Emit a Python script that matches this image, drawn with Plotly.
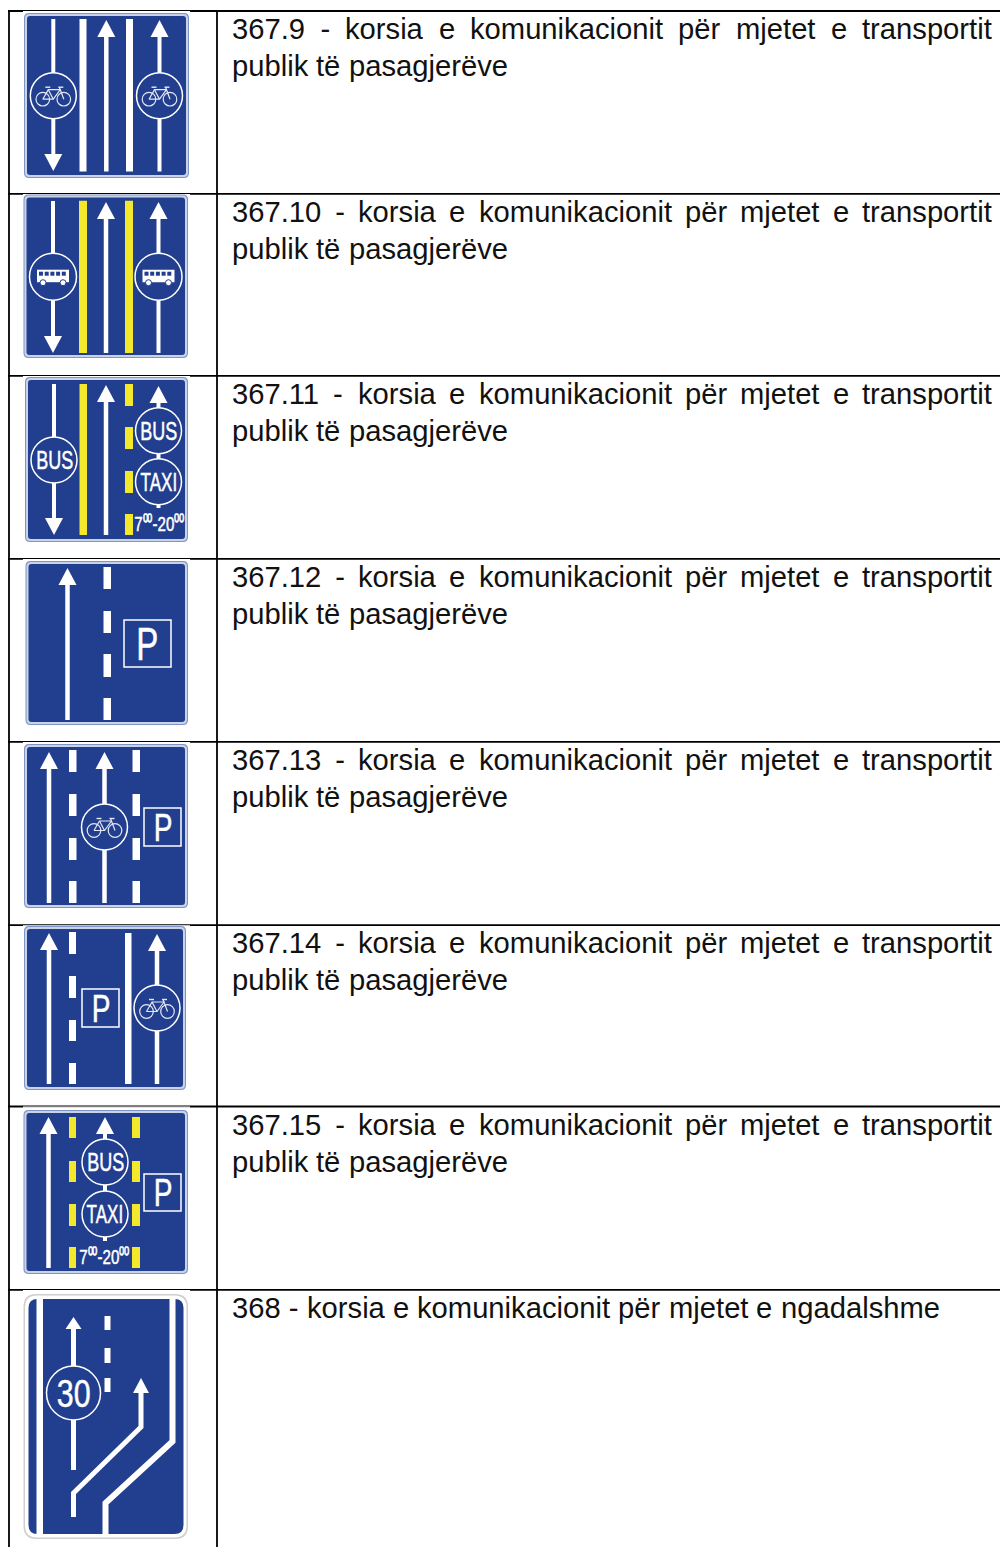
import json
import plotly.graph_objects as go

# ---------- table content ----------
ROW_CODES = ["367.9", "367.10", "367.11", "367.12", "367.13", "367.14", "367.15"]
PHRASE_LINE_1 = "korsia e komunikacionit për mjetet e transportit"
PHRASE_LINE_2 = "publik të pasagjerëve"
LAST_ROW_TEXT = "368 - korsia e komunikacionit për mjetet e ngadalshme"
HOURS_TEXT = "7⁰⁰-20⁰⁰"
TEXT_CENTERS = [29, 212, 394, 577, 760, 943, 1125, 1308]
RULE_YS = [11, 193.8, 375.9, 558.8, 741.8, 925.2, 1106.5, 1289.8]
COL_XS = [9, 217]

BLUE = "#223e8e"; RIM = "#7f95c6"; YEL = "#f4e82c"; WHITE = "#ffffff"; INK = "#111111"
FONT = "Liberation Sans"
FS = 29.2
TEXT_L, TEXT_R = 232, 992
NB = "\u00a0"; QUARTER = "\u2005"; THIN = "\u2009"
ADV = dict(zip("0123456789", [.556]*10))
ADV.update({'.':.278,'-':.333,'k':.5,'o':.556,'r':.333,'s':.5,'i':.222,'a':.556,'e':.556,'m':.833,
            'u':.556,'n':.556,'c':.5,'t':.278,'p':.556,'ë':.556,'j':.222,'l':.222,'b':.556,'g':.556,
            'v':.5,'d':.556,'h':.556, NB:.278, QUARTER:.25, THIN:.2})

shapes, notes, squeeze = [], [], {}

def word_w(w): return sum(ADV[c] for c in w) * FS

def put_text(x, y, t, size=FS, color=INK, anchor="left", sx=None):
    if sx:
        squeeze[len(notes)] = sx
    notes.append(dict(x=x, y=y, text=t, showarrow=False, xanchor=anchor, yanchor="middle",
                      borderpad=0, borderwidth=0, font=dict(family=FONT, size=size, color=color)))

def words_line(ws, y, justify):
    gap = .278 * FS
    if justify:
        gap = (TEXT_R - TEXT_L - sum(word_w(w) for w in ws)) / (len(ws) - 1)
    x = TEXT_L
    for w in ws:
        put_text(x, y, w)
        x += word_w(w) + gap

def rect(x0, y0, x1, y1, fill=WHITE, line=None, lw=0, layer="above"):
    shapes.append(dict(type="rect", x0=x0, y0=y0, x1=x1, y1=y1, fillcolor=fill, layer=layer,
                       line=dict(color=line or fill, width=lw)))

def seg(pts, color=WHITE, w=4.5):
    d = "M" + " L".join(f"{x},{y}" for x, y in pts)
    shapes.append(dict(type="path", path=d, layer="above", line=dict(color=color, width=w)))

def poly(pts, fill=WHITE):
    d = "M" + " L".join(f"{x},{y}" for x, y in pts) + " Z"
    shapes.append(dict(type="path", path=d, fillcolor=fill, layer="above", line=dict(width=0)))

def rrect(x0, y0, x1, y1, r, fill, line=None, lw=0):
    d = (f"M{x0+r},{y0} L{x1-r},{y0} Q{x1},{y0} {x1},{y0+r} L{x1},{y1-r} Q{x1},{y1} {x1-r},{y1} "
         f"L{x0+r},{y1} Q{x0},{y1} {x0},{y1-r} L{x0},{y0+r} Q{x0},{y0} {x0+r},{y0} Z")
    shapes.append(dict(type="path", path=d, fillcolor=fill, layer="above", line=dict(color=line or fill, width=lw)))

def circ(cx, cy, r, fill=BLUE, line=WHITE, lw=1.5):
    shapes.append(dict(type="circle", x0=cx-r, y0=cy-r, x1=cx+r, y1=cy+r, fillcolor=fill, layer="above",
                       line=dict(color=line, width=lw)))

def board(x0, y0, x1, y1):
    rrect(x0, y0, x1, y1, 5, RIM)
    rrect(x0+1, y0+1, x1-1, y1-1, 4.5, "#c9d3e8")
    rrect(x0+3, y0+3, x1-3, y1-3, 3, BLUE)

def arrow_up(x, tip, bottom, w=4.5, hw=9, hl=17):
    seg([(x, tip+hl-1), (x, bottom)], w=w)
    poly([(x, tip), (x+hw, tip+hl), (x-hw, tip+hl)])

def arrow_down(x, top, tip, w=4.5, hw=9, hl=17):
    seg([(x, top), (x, tip-hl+1)], w=w)
    poly([(x, tip), (x+hw, tip-hl), (x-hw, tip-hl)])

def dashes(x0, x1, spans, fill=WHITE):
    for a, b in spans:
        rect(x0, a, x1, b, fill)

def bike(cx, cy):
    c = "#e4e8f4"
    for dx in (-10.5, 10.5):
        circ(cx+dx, cy+3.5, 6.8, fill="rgba(0,0,0,0)", line=c, lw=1.2)
    seg([(cx-10.5, cy+3.5), (cx-5, cy-6), (cx+7, cy-6), (cx+10.5, cy+3.5)], color=c, w=1.2)
    seg([(cx-10.5, cy+3.5), (cx, cy+3.5), (cx+7, cy-6)], color=c, w=1.2)
    seg([(cx-5, cy-6), (cx, cy+3.5)], color=c, w=1.2)
    seg([(cx-8, cy-8.5), (cx-3, cy-8.5)], color=c, w=1.4)
    seg([(cx+5, cy-8.5), (cx+10, cy-8.5)], color=c, w=1.4)
    seg([(cx+6, cy-8.5), (cx+7, cy-6)], color=c, w=1.2)

def bus(cx, cy):
    rect(cx-16, cy-7, cx+16, cy+5.5, WHITE)
    for i in range(5):
        rect(cx-14+i*5.7, cy-5, cx-10+i*5.7, cy-1, BLUE)
    for dx in (-10, 10):
        circ(cx+dx, cy+6, 3, fill=WHITE, line=BLUE, lw=1)

def badge(cx, cy, t, r=23, size=25, sx=.72):
    circ(cx, cy, r)
    put_text(cx, cy, t, size=size, color=WHITE, anchor="center", sx=sx)

def pbox(x0, y0, x1, y1, size):
    rect(x0, y0, x1, y1, BLUE, WHITE, 1.5)
    put_text((x0+x1)/2, (y0+y1)/2, "P", size=size, color=WHITE, anchor="center", sx=.72)

def hours(cx, cy):
    put_text(cx, cy, HOURS_TEXT, size=21, color=WHITE, anchor="center", sx=.72)

# ---------- rules ----------
for y in RULE_YS:
    shapes.append(dict(type="line", x0=COL_XS[0]-1, x1=1000, y0=y, y1=y, layer="below", line=dict(color="#000", width=1.8)))
for x in COL_XS:
    shapes.append(dict(type="line", x0=x, x1=x, y0=RULE_YS[0], y1=1547, layer="below", line=dict(color="#000", width=1.8)))
for y in RULE_YS:
    rect(23, y + 0.1, 190, y + 1.2, layer="below")

# ---------- sign 367.9 ----------
board(24, 13, 189, 178)
arrow_down(53.3, 19, 171, w=4)
dashes(79.5, 86.5, [(19, 171.5)]); dashes(126, 133, [(19, 171.5)])
arrow_up(106.3, 20, 171.5); arrow_up(159.5, 20, 171.5, w=4)
circ(53.3, 95.7, 23); circ(159.5, 95.7, 23)
bike(53.3, 95.7); bike(159.5, 95.7)

# ---------- sign 367.10 ----------
board(23.5, 194.5, 188, 358)
arrow_down(53, 201, 353, w=4)
dashes(79, 87, [(200.7, 353)], YEL); dashes(125, 133, [(200.7, 353)], YEL)
arrow_up(106, 202, 353); arrow_up(158.5, 202, 353, w=4)
circ(53, 276.7, 23.5); circ(158.5, 276.7, 23.5)
bus(53, 276.7); bus(158.5, 276.7)

# ---------- sign 367.11 ----------
board(25, 377, 188, 542)
arrow_down(54, 384, 535, w=4)
dashes(79.5, 87, [(384, 535)], YEL)
arrow_up(106, 385, 535)
dashes(125, 133, [(384, 406), (427, 449), (471, 493), (514, 535)], YEL)
arrow_up(158.5, 386, 508, w=4)
badge(54, 460, "BUS"); badge(158.5, 430.7, "BUS"); badge(158.5, 481.7, "TAXI", sx=.68)
hours(159, 523)

# ---------- sign 367.12 ----------
board(25.5, 561, 188, 725)
arrow_up(67.5, 568, 720)
dashes(103.5, 111, [(567, 589), (611, 633), (654, 677), (698, 720)])
pbox(124, 620, 171, 667, 46)

# ---------- sign 367.13 ----------
board(24, 744, 188, 908)
arrow_up(49, 752, 903)
DASH_5 = [(750, 772), (794, 816), (838, 860), (881, 903)]
dashes(69, 76.5, DASH_5); dashes(132.5, 140, DASH_5)
arrow_up(104.5, 752, 903)
circ(104.5, 827, 23); bike(104.5, 827)
pbox(144, 808, 181, 846, 39)

# ---------- sign 367.14 ----------
board(24, 926, 186, 1090)
arrow_up(49, 933, 1084)
dashes(69, 76, [(932, 954), (976, 998), (1020, 1041), (1063, 1084)])
dashes(125, 131.5, [(933, 1084)])
pbox(82, 989, 119, 1027, 39)
arrow_up(157, 934, 1084)
circ(157, 1008, 23); bike(157, 1008)

# ---------- sign 367.15 ----------
board(23.5, 1110, 188, 1274)
arrow_up(48.5, 1117, 1268)
DASH_7 = [(1117, 1138), (1161, 1182), (1204, 1226), (1247, 1268)]
dashes(69, 76, DASH_7, YEL); dashes(132, 140, DASH_7, YEL)
arrow_up(105, 1117, 1241, w=4)
badge(105, 1162, "BUS"); badge(105, 1214, "TAXI", sx=.68)
hours(104, 1256)
pbox(144, 1174, 181, 1211, 39)

# ---------- sign 368 ----------
rrect(23.5, 1294, 188, 1539, 13, "#cfcfcf")
rrect(25, 1295.5, 186.5, 1537.5, 12, WHITE)
rrect(28.5, 1299, 183.5, 1534, 9, BLUE)
rect(36.5, 1299, 43, 1534, WHITE)
seg([(172.5, 1299), (172.5, 1441.5), (105.5, 1503), (105.5, 1534)], w=6)
arrow_up(73.5, 1317, 1470, w=5, hw=8, hl=12)
circ(73.5, 1393, 27); put_text(73.5, 1393, "30", size=39, color=WHITE, anchor="center", sx=.78)
dashes(104.5, 110.5, [(1316, 1330), (1348, 1363), (1378, 1392)])
poly([(141, 1378), (149, 1393), (133, 1393)])
seg([(141, 1392), (141, 1427), (73.5, 1493), (73.5, 1517)], w=5)

# ---------- text ----------
for code, cy in zip(ROW_CODES, TEXT_CENTERS):
    filler = QUARTER if len(code) == 5 else THIN
    words_line([f"{code}{NB}{filler}-"] + PHRASE_LINE_1.split(), cy, True)
    words_line(PHRASE_LINE_2.split(), cy + 36.7, False)
last = LAST_ROW_TEXT.split()
words_line([f"{last[0]}{NB}{last[1]}"] + last[2:], TEXT_CENTERS[-1], False)

fig = go.Figure()
fig.update_layout(
    width=1000, height=1547, margin=dict(l=0, r=0, t=0, b=0), paper_bgcolor="white", plot_bgcolor="white",
    xaxis=dict(range=[0, 1000], visible=False, fixedrange=True),
    yaxis=dict(range=[1547, 0], visible=False, fixedrange=True),
    shapes=shapes, annotations=notes, showlegend=False,
)
js = ("document.body.style.margin='0';document.body.style.overflow='hidden';"
      "var sq=" + json.dumps(squeeze) + ";"
      "document.querySelectorAll('g.annotation').forEach(function(g){"
      "var s=sq[g.getAttribute('data-index')];if(!s)return;"
      "var t=g.querySelector('text');"
      "t.style.transformBox='fill-box';t.style.transformOrigin='center';"
      "t.style.stroke='#ffffff';t.style.strokeWidth='0.5px';"
      "t.style.transform='scaleX('+s+')';});")
fig.write_html("out.html", config=dict(displayModeBar=False), post_script=js)
